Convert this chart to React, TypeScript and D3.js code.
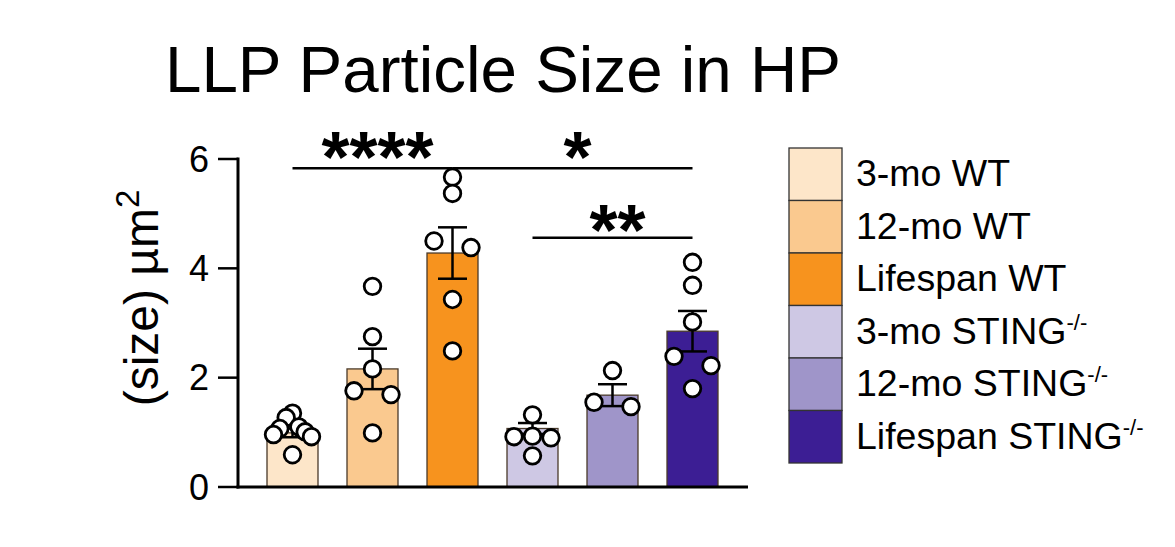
import React from "react";
import * as d3 from "d3";

const groups = ["3-mo WT", "12-mo WT", "Lifespan WT", "3-mo STING", "12-mo STING", "Lifespan STING"];
const legendMain = ["3-mo WT", "12-mo WT", "Lifespan WT", "3-mo STING", "12-mo STING", "Lifespan STING"];
const legendSup = ["", "", "", "-/-", "-/-", "-/-"];
const colors = ["#FDE6C9", "#FAC98F", "#F7931E", "#CEC8E4", "#9F95C9", "#3C1E94"];
const means = [0.99, 2.16, 4.28, 1.07, 1.68, 2.85];
const sems = [0.08, 0.37, 0.47, 0.1, 0.2, 0.37];
const pts0 = [1.35, 1.27, 1.1, 1.07, 1.01, 0.96, 0.92, 0.59];
const pts1 = [3.67, 2.75, 2.16, 1.76, 1.69, 0.99];
const pts2 = [5.67, 5.37, 4.5, 4.38, 3.43, 2.49];
const pts3 = [1.32, 0.93, 0.92, 0.9, 0.57];
const pts4 = [2.13, 1.55, 1.47];
const pts5 = [4.11, 3.69, 3.02, 2.39, 2.22, 1.8];
const points = [pts0, pts1, pts2, pts3, pts4, pts5];
const yTicks = [0, 2, 4, 6];
const sigFrom = [0, 2, 3];
const sigTo = [2, 5, 5];
const sigY = [5.83, 5.83, 4.56];
const sigLabel = ["****", "*", "**"];

const FONT = "'Liberation Sans', Arial, Helvetica, sans-serif";

function swarm(vals: number[], y: (v: number) => number, cx: number) {
  const items = vals.map((v) => ({ v, py: y(v), dx: 0 }));
  const sorted = [...items].sort((a, b) => b.v - a.v);
  const clusters: typeof items[] = [];
  let cur: typeof items = [];
  sorted.forEach((it, i) => {
    if (i === 0 || Math.abs(it.py - sorted[i - 1].py) < 16) cur.push(it);
    else {
      clusters.push(cur);
      cur = [it];
    }
  });
  if (cur.length) clusters.push(cur);
  clusters.forEach((cl) => {
    const n = cl.length;
    const lanes: number[] = [];
    if (n % 2 === 1) {
      lanes.push(0);
      for (let k = 1; lanes.length < n; k++) lanes.push(-k, k);
    } else {
      for (let k = 1; lanes.length < n; k++) lanes.push(-k, k);
    }
    const maxLane = Math.max(...lanes.map(Math.abs), 1);
    let L = 18.5;
    if (maxLane * L > 19) L = 19 / maxLane;
    cl.forEach((it, i) => (it.dx = lanes[i] * L));
  });
  return items.map((it) => ({ x: cx + it.dx, y: it.py }));
}

export default function App() {
  const W = 1175, H = 547;
  const y = d3.scaleLinear().domain([0, 6]).range([487, 159]);
  const x = d3.scaleBand<string>().domain(groups).range([252.5, 732.5]).paddingInner(0.3625).paddingOuter(0.18125);
  const bw = x.bandwidth();
  const cx = (i: number) => (x(groups[i]) as number) + bw / 2;
  const axisX0 = 238;
  const capW = 29;

  return (
    <svg width={W} height={H} style={{ display: "block", position: "absolute", left: 0, top: 0 }} fontFamily={FONT}>
      <rect width={W} height={H} fill="#fff" />
      <text x={165} y={92} fontSize={65.5} fill="#000">LLP Particle Size in HP</text>

      {/* y label */}
      <text transform="translate(158,298) rotate(-90)" textAnchor="middle" fontSize={48} fill="#000">
        (size) µm<tspan fontSize={33} dy={-19}>2</tspan>
      </text>

      {/* bars */}
      {means.map((m, i) => (
        <rect key={"b" + i} x={x(groups[i])} y={y(m)} width={bw} height={y(0) - y(m)} fill={colors[i]} stroke="#4a3a2a" strokeWidth={1.3} />
      ))}

      {/* significance lines */}
      {sigLabel.map((lab, k) => {
        const x1 = cx(sigFrom[k]);
        const x2 = cx(sigTo[k]);
        const yy = y(sigY[k]);
        const off = k === 2 ? 17 : 13.5;
        return (
          <g key={"s" + k}>
            <line x1={x1} x2={x2} y1={yy} y2={yy} stroke="#000" strokeWidth={2.5} />
            <text x={(x1 + x2) / 2 + 5} y={yy + off} textAnchor="middle" fontSize={72} fontWeight="bold" fill="#000">{lab}</text>
          </g>
        );
      })}

      {/* error bars */}
      {means.map((m, i) => {
        const c = cx(i);
        const t = y(m + sems[i]);
        const b = y(m - sems[i]);
        return (
          <g key={"e" + i} stroke="#000" strokeWidth={2.5}>
            <line x1={c} x2={c} y1={t} y2={b} />
            <line x1={c - capW / 2} x2={c + capW / 2} y1={t} y2={t} />
            <line x1={c - capW / 2} x2={c + capW / 2} y1={b} y2={b} />
          </g>
        );
      })}

      {/* points */}
      {points.map((vals, i) =>
        swarm(vals, y, cx(i)).map((p, j) => (
          <circle key={"p" + i + "-" + j} cx={p.x} cy={p.y} r={8.3} fill="#fff" stroke="#000" strokeWidth={2.8} />
        ))
      )}

      {/* axes */}
      <line x1={axisX0} x2={axisX0} y1={y(6) - 1.5} y2={y(0) + 1.5} stroke="#000" strokeWidth={3} />
      <line x1={axisX0 - 1.5} x2={748} y1={y(0)} y2={y(0)} stroke="#000" strokeWidth={3} />
      {yTicks.map((t) => (
        <g key={"t" + t}>
          <line x1={axisX0 - 20} x2={axisX0} y1={y(t)} y2={y(t)} stroke="#000" strokeWidth={2.5} />
          <text x={209} y={y(t)} dy="0.35em" textAnchor="end" fontSize={36} fill="#000">{t}</text>
        </g>
      ))}

      {/* legend */}
      {legendMain.map((lab, i) => {
        const top = 148 + i * 52.5;
        return (
          <g key={"l" + i}>
            <rect x={789} y={top} width={53} height={52.5} fill={colors[i]} stroke="#333" strokeWidth={1.3} />
            <text x={856} y={top + 26.25 + 12} fontSize={37.5} fill="#000">
              {lab}
              {legendSup[i] ? <tspan fontSize={22} dy={-14}>{legendSup[i]}</tspan> : null}
            </text>
          </g>
        );
      })}
    </svg>
  );
}
